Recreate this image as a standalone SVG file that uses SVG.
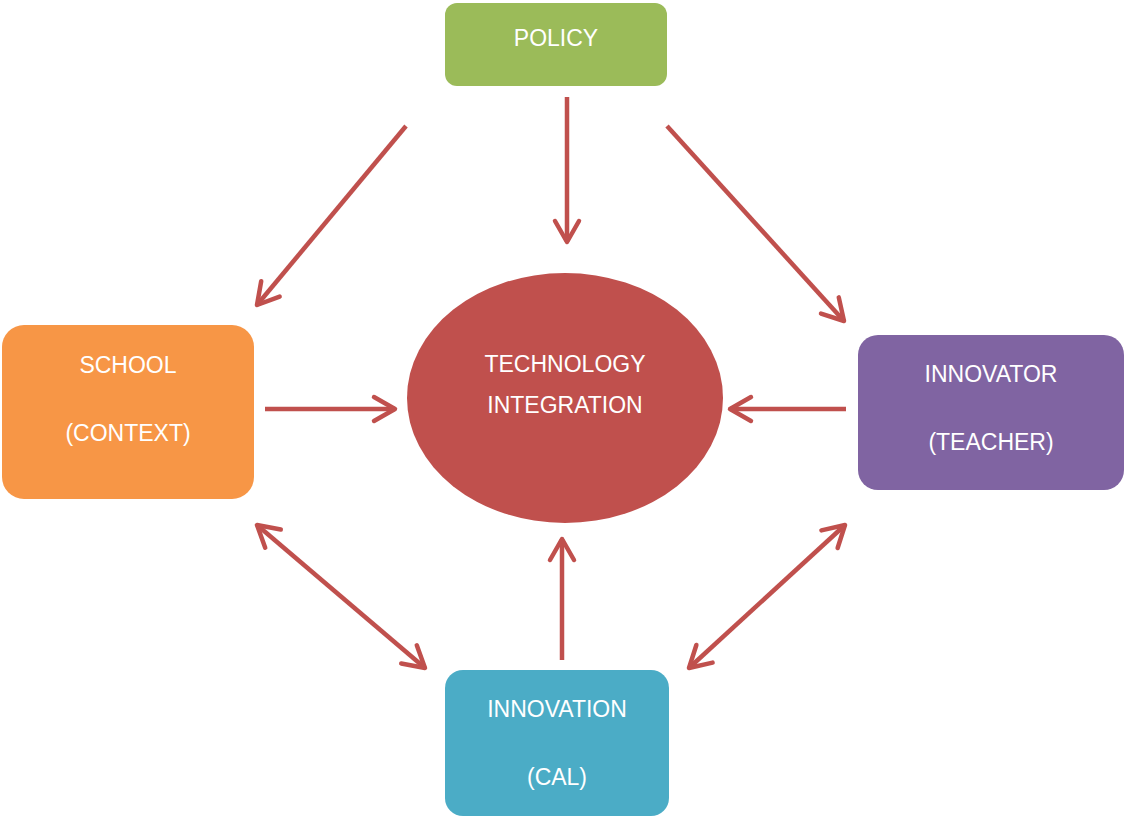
<svg xmlns="http://www.w3.org/2000/svg" width="1124" height="817" viewBox="0 0 1124 817">
<style>
.lbl{font-family:"Liberation Sans","Open Sans",Arial,sans-serif;font-size:23px;fill:#ffffff;text-anchor:middle}
.con line{stroke:#C0504D;stroke-width:4.5;fill:none}
</style>
<defs>
<marker id="ah" markerUnits="userSpaceOnUse" markerWidth="40" markerHeight="40" viewBox="-30 -20 40 40" refX="0" refY="0" orient="auto-start-reverse" overflow="visible">
<path d="M-21,-12 L0,0 L-21,12" fill="none" stroke="#C0504D" stroke-width="4.5" stroke-linecap="round" stroke-linejoin="round"/>
</marker>
</defs>
<rect width="1124" height="817" fill="#ffffff"/>
<g id="policy"><rect x="445" y="3" width="222" height="83" rx="12" fill="#9BBB59"/><text class="lbl" x="556" y="46">POLICY</text></g>
<g id="tech"><ellipse cx="565" cy="398" rx="158" ry="125" fill="#C0504D"/><text class="lbl" x="565" y="372">TECHNOLOGY</text><text class="lbl" x="565" y="413">INTEGRATION</text></g>
<g id="school"><rect x="2" y="325" width="252" height="174" rx="22" fill="#F79646"/><text class="lbl" x="128" y="373">SCHOOL</text><text class="lbl" x="128" y="441">(CONTEXT)</text></g>
<g id="innovator"><rect x="858" y="335" width="266" height="155" rx="20" fill="#8064A2"/><text class="lbl" x="991" y="382">INNOVATOR</text><text class="lbl" x="991" y="450">(TEACHER)</text></g>
<g id="innovation"><rect x="445" y="670" width="224" height="146" rx="18" fill="#4BACC6"/><text class="lbl" x="557" y="717">INNOVATION</text><text class="lbl" x="557" y="785">(CAL)</text></g>
<g class="con" id="connectors">
<line x1="567" y1="97" x2="567" y2="242" marker-end="url(#ah)"/>
<line x1="406" y1="126" x2="257" y2="305" marker-end="url(#ah)"/>
<line x1="667" y1="126" x2="844" y2="321" marker-end="url(#ah)"/>
<line x1="265" y1="409" x2="395" y2="409" marker-end="url(#ah)"/>
<line x1="846" y1="409" x2="730" y2="409" marker-end="url(#ah)"/>
<line x1="562" y1="660" x2="562" y2="539" marker-end="url(#ah)"/>
<line x1="257" y1="525" x2="425" y2="668" marker-start="url(#ah)" marker-end="url(#ah)"/>
<line x1="845" y1="525" x2="689" y2="668" marker-start="url(#ah)" marker-end="url(#ah)"/>
</g>
</svg>
